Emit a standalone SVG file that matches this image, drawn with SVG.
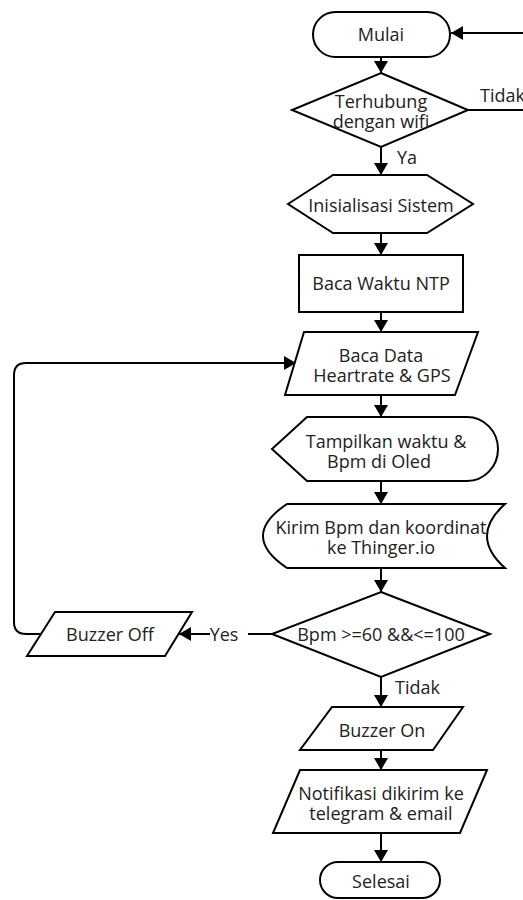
<svg xmlns="http://www.w3.org/2000/svg" width="523" height="900" viewBox="0 0 523 900">
<style>
.s{fill:#fff;stroke:#000;stroke-width:2;stroke-linejoin:miter}
.c{fill:none;stroke:#000;stroke-width:2}
text{font-family:"Open Sans","Noto Sans","Liberation Sans",sans-serif;font-size:18px;fill:#222;text-anchor:middle;dominant-baseline:central}
.l{text-anchor:start}
</style>
<defs>
<marker id="a" viewBox="0 0 12 14" refX="12" refY="7" markerWidth="12" markerHeight="14" markerUnits="userSpaceOnUse" orient="auto">
<path d="M0,0 L12,7 L0,14 Z" fill="#000"/>
</marker>
</defs>
<rect width="523" height="900" fill="#fff"/>
<g id="connectors">
<line class="c" x1="381" y1="57" x2="381" y2="73" marker-end="url(#a)"/>
<path class="c" d="M468,110 L528,110 L528,33 L451,33" marker-end="url(#a)"/>
<line class="c" x1="381" y1="147" x2="381" y2="175" marker-end="url(#a)"/>
<line class="c" x1="381" y1="233" x2="381" y2="255" marker-end="url(#a)"/>
<line class="c" x1="381" y1="312" x2="381" y2="332" marker-end="url(#a)"/>
<line class="c" x1="381" y1="395" x2="381" y2="417" marker-end="url(#a)"/>
<line class="c" x1="381" y1="481" x2="381" y2="504" marker-end="url(#a)"/>
<line class="c" x1="381" y1="568" x2="381" y2="592" marker-end="url(#a)"/>
<line class="c" x1="272" y1="634" x2="248" y2="634"/>
<line class="c" x1="210" y1="634" x2="179" y2="634" marker-end="url(#a)"/>
<path class="c" d="M41,634 L26,634 Q14,634 14,622 L14,375 Q14,363 26,363 L296,363" marker-end="url(#a)"/>
<line class="c" x1="381" y1="677" x2="381" y2="707" marker-end="url(#a)"/>
<line class="c" x1="381" y1="750" x2="381" y2="770" marker-end="url(#a)"/>
<line class="c" x1="381" y1="833" x2="381" y2="862" marker-end="url(#a)"/>
<text class="l" x="480" y="95">Tidak</text>
<text class="l" x="397" y="157">Ya</text>
<text x="224" y="634">Yes</text>
<text class="l" x="395" y="687">Tidak</text>
</g>
<g id="mulai">
<rect class="s" x="313" y="12" width="137" height="45" rx="22.5"/>
<text x="381" y="34">Mulai</text>
</g>
<g id="wifi">
<path class="s" d="M381,73 L468,110 L381,147 L292,110 Z"/>
<text x="381" y="101">Terhubung</text>
<text x="381" y="121">dengan wifi</text>
</g>
<g id="init">
<path class="s" d="M288,204 L333,175 L427,175 L473,204 L427,233 L333,233 Z"/>
<text x="381" y="205">Inisialisasi Sistem</text>
</g>
<g id="ntp">
<rect class="s" x="299" y="255" width="164" height="57"/>
<text x="381" y="283">Baca Waktu NTP</text>
</g>
<g id="bacadata">
<path class="s" d="M304,332 L478,332 L455,395 L285,395 Z"/>
<text x="381" y="355">Baca Data</text>
<text x="382" y="375">Heartrate &amp; GPS</text>
</g>
<g id="tampil">
<path class="s" d="M272,449 L307,417 L467,417 A31,32 0 0 1 467,481 L307,481 Z"/>
<text x="386" y="441">Tampilkan waktu &amp;</text>
<text x="379" y="461">Bpm di Oled</text>
</g>
<g id="kirim">
<path class="s" d="M287,504 L505,504 Q469,536 505,568 L287,568 Q239,536 287,504 Z"/>
<text x="381" y="527">Kirim Bpm dan koordinat</text>
<text x="381" y="547">ke Thinger.io</text>
</g>
<g id="bpm">
<path class="s" d="M381,592 L490,634 L381,677 L272,634 Z"/>
<text x="381" y="634">Bpm &gt;=60 &amp;&amp;&lt;=100</text>
</g>
<g id="buzzeroff">
<path class="s" d="M55,612 L192,612 L165,656 L27,656 Z"/>
<text x="110" y="634">Buzzer Off</text>
</g>
<g id="buzzeron">
<path class="s" d="M332,707 L463,707 L433,750 L300,750 Z"/>
<text x="382" y="730">Buzzer On</text>
</g>
<g id="notif">
<path class="s" d="M300,770 L487,770 L460,833 L273,833 Z"/>
<text x="381" y="793">Notifikasi dikirim ke</text>
<text x="381" y="813">telegram &amp; email</text>
</g>
<g id="selesai">
<rect class="s" x="320" y="862" width="120" height="36" rx="18"/>
<text x="381" y="881">Selesai</text>
</g>
</svg>
